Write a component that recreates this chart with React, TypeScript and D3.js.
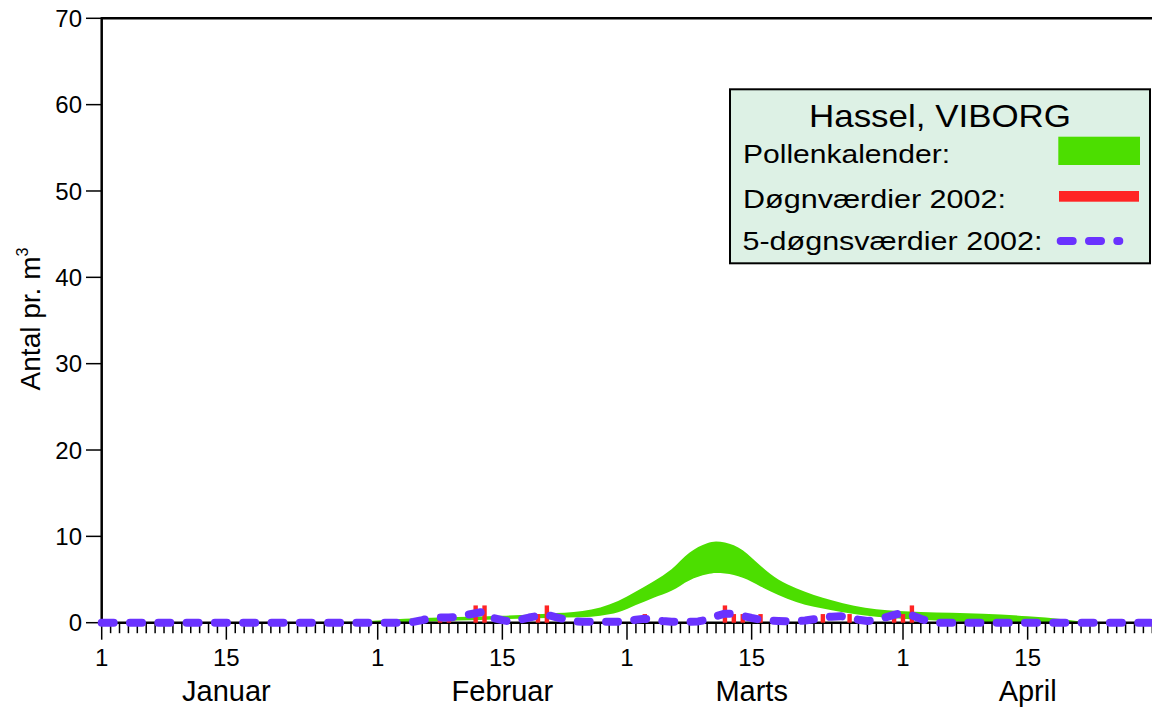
import React from "react";
import * as d3 from "d3";

// Day index 0 = 1 January 2002
const monthNames = ["Januar", "Februar", "Marts", "April"];
const monthStarts = [0, 31, 59, 90];
const yTicks = [0, 10, 20, 30, 40, 50, 60, 70];

// Pollen calendar band (lower / upper bound per day)
const bandDays = [0, 28, 34, 40, 45, 50, 54, 56, 58, 60, 62, 64, 66, 68, 69, 70, 72, 74, 76, 78, 82, 87, 92, 99, 104, 108, 111];
const bandUpper = [0, 0.1, 0.45, 0.65, 0.8, 1.05, 1.35, 1.75, 2.5, 3.6, 4.8, 6.2, 8.1, 9.2, 9.4, 9.3, 8.4, 6.6, 5.0, 4.0, 2.6, 1.55, 1.25, 1.05, 0.75, 0.4, 0];
const bandLower = [0, 0, 0.05, 0.25, 0.4, 0.55, 0.62, 0.8, 1.2, 2.05, 2.9, 3.7, 4.9, 5.6, 5.75, 5.7, 5.2, 4.2, 3.2, 2.4, 1.45, 0.7, 0.35, 0.05, 0, 0, 0];

// Daily values 2002
const dailyDays = [38, 39, 42, 43, 49, 50, 61, 70, 71, 72, 74, 81, 84, 89, 90, 91];
const dailyValues = [1, 1, 2, 2, 1, 2, 1, 2, 1, 1, 1, 1, 1, 1, 1, 2];

// 5-day values 2002
const fiveDayDays = [0, 34, 35, 36, 37, 38, 39, 40, 41, 42, 43, 44, 45, 46, 47, 48, 49, 50, 51, 52, 53, 54, 58, 59, 60, 61, 62, 63, 64, 66, 67, 68, 69, 70, 71, 72, 73, 74, 75, 76, 77, 78, 79, 80, 81, 82, 83, 84, 85, 86, 87, 88, 89, 90, 91, 92, 93, 94, 118];
const fiveDayValues = [0, 0, 0.1, 0.3, 0.55, 0.6, 0.6, 0.7, 0.9, 1.1, 1.3, 0.55, 0.3, 0.1, 0.35, 0.6, 0.8, 0.9, 0.65, 0.4, 0.15, 0.1, 0.1, 0.2, 0.35, 0.45, 0.35, 0.2, 0.1, 0.1, 0.15, 0.35, 0.75, 1.05, 1.0, 0.8, 0.55, 0.35, 0.25, 0.2, 0.15, 0.15, 0.25, 0.4, 0.6, 0.7, 0.75, 0.6, 0.35, 0.2, 0.3, 0.6, 0.9, 1.15, 0.85, 0.45, 0.15, 0, 0];

const GREEN = "#4cde00";
const RED = "#ff2424";
const PURPLE = "#6a32ff";
const FONT = "'Liberation Sans', Arial, sans-serif";

export default function App() {
  const W = 1152;
  const H = 708;
  const x = d3.scaleLinear().domain([0, 118]).range([101.7, 1152.3]);
  const y = d3.scaleLinear().domain([0, 70]).range([622.7, 18.3]);

  const bandData = bandDays.map((d, i) => ({ d, lo: bandLower[i], hi: bandUpper[i] }));
  const area = d3
    .area<{ d: number; lo: number; hi: number }>()
    .x((p) => x(p.d))
    .y0((p) => y(p.lo))
    .y1((p) => y(p.hi))
    .curve(d3.curveMonotoneX);

  const fiveData = fiveDayDays.map((d, i) => ({ d, v: fiveDayValues[i] }));
  const line = d3
    .line<{ d: number; v: number }>()
    .x((p) => x(p.d))
    .y((p) => y(p.v));

  const days = d3.range(0, 119);
  const majorDays: number[] = [];
  const majorLabels: string[] = [];
  monthStarts.forEach((s) => {
    majorDays.push(s);
    majorLabels.push("1");
    majorDays.push(s + 14);
    majorLabels.push("15");
  });

  const y0 = y(0);
  const barW = 4.4;

  return (
    <svg
      width={W}
      height={H}
      style={{ position: "absolute", left: 0, top: 0, background: "#fff" }}
      fontFamily={FONT}
    >
      <rect x={0} y={0} width={W} height={H} fill="#fff" />

      {/* pollen calendar band */}
      <path d={area(bandData) || ""} fill={GREEN} />

      {/* axes */}
      <line x1={x(0) - 0.5} x2={W} y1={y(70)} y2={y(70)} stroke="#000" strokeWidth={2.5} />
      <line x1={x(0)} x2={x(0)} y1={y(70) - 1} y2={y0 + 1} stroke="#000" strokeWidth={2.5} />
      <line x1={x(0)} x2={W} y1={y0} y2={y0} stroke="#000" strokeWidth={2.5} />
      {yTicks.map((t) => (
        <g key={"yt" + t}>
          <line x1={86} x2={x(0)} y1={y(t)} y2={y(t)} stroke="#000" strokeWidth={1.5} />
          <text x={82} y={y(t) + 8.6} textAnchor="end" fontSize={24} fill="#000">
            {t}
          </text>
        </g>
      ))}
      {days.map((d) => {
        const major = majorDays.includes(d);
        return (
          <line
            key={"xt" + d}
            x1={x(d)}
            x2={x(d)}
            y1={y0 + 1}
            y2={major ? y0 + 17 : y0 + 10.5}
            stroke="#000"
            strokeWidth={1.5}
          />
        );
      })}
      {majorDays.map((d, i) => (
        <text key={"xl" + d} x={x(d)} y={666} textAnchor="middle" fontSize={24} fill="#000">
          {majorLabels[i]}
        </text>
      ))}
      {monthNames.map((m, i) => (
        <text key={m} x={x(monthStarts[i] + 14)} y={701} textAnchor="middle" fontSize={29} fill="#000">
          {m}
        </text>
      ))}
      <text transform={`translate(40,${319}) rotate(-90)`} textAnchor="middle" fontSize={28} fill="#000">
        Antal pr. m
        <tspan fontSize={16} dy={-12}>
          3
        </tspan>
      </text>

      {/* daily values */}
      {dailyDays.map((d, i) => (
        <rect
          key={"bar" + d}
          x={x(d) - barW / 2}
          y={y(dailyValues[i])}
          width={barW}
          height={y0 - y(dailyValues[i])}
          fill={RED}
        />
      ))}

      {/* 5-day values */}
      <path
        d={line(fiveData) || ""}
        fill="none"
        stroke={PURPLE}
        strokeWidth={8}
        strokeLinecap="round"
        strokeLinejoin="round"
        strokeDasharray="12 16.3"
      />

      {/* legend */}
      <g>
        <rect x={730} y={89.3} width={420} height={174} fill="#ddf1e5" stroke="#000" strokeWidth={2} />
        <text x={809} y={126.7} fontSize={32} textLength={262} lengthAdjust="spacingAndGlyphs" fill="#000">
          Hassel, VIBORG
        </text>
        <text x={743} y={163.3} fontSize={26} textLength={207} lengthAdjust="spacingAndGlyphs" fill="#000">
          Pollenkalender:
        </text>
        <rect x={1058.3} y={136.7} width={81.7} height={28.3} fill={GREEN} />
        <text x={743} y={208.3} fontSize={26} textLength={263} lengthAdjust="spacingAndGlyphs" fill="#000">
          Døgnværdier 2002:
        </text>
        <rect x={1059} y={191} width={80} height={10.7} fill={RED} />
        <text x={742.5} y={250} fontSize={26} textLength={300} lengthAdjust="spacingAndGlyphs" fill="#000">
          5-døgnsværdier 2002:
        </text>
        <line
          x1={1060.7}
          x2={1119.3}
          y1={241}
          y2={241}
          stroke={PURPLE}
          strokeWidth={8}
          strokeLinecap="round"
          strokeDasharray="12 16.3"
        />
      </g>
    </svg>
  );
}
